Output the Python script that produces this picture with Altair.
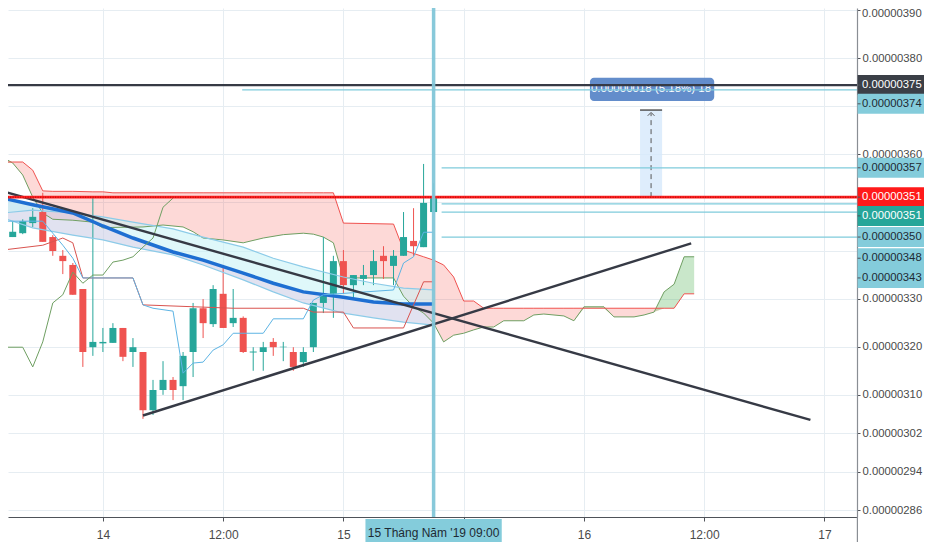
import altair as alt
import pandas as pd

# ---------------- data (prices in units of 1e-8) ----------------
# hourly candles, hour offset from 14 May 00:00
candle_hour = list(range(-10, 34))
candle_open = [347.0, 342.8, 343.6, 345.7, 348.0, 342.8, 338.9, 337.0, 332.0, 319.9,
               320.7, 320.8, 323.9, 318.9, 318.9, 306.8, 311.0, 313.1, 311.8, 318.9,
               328.0, 324.7, 331.0, 324.9, 326.0, 318.8, 318.9, 321.0, 319.9, 318.9,
               316.8, 319.9, 329.1, 331.0, 337.8, 332.8, 334.1, 334.9, 338.9, 336.8,
               338.9, 342.0, 340.7, 348.0]
candle_high = [347.5, 346.1, 346.5, 348.8, 352.0, 343.2, 340.1, 337.4, 332.0, 350.9,
               323.9, 324.9, 323.9, 321.8, 318.9, 313.1, 317.0, 313.7, 318.9, 329.1,
               329.9, 332.8, 337.0, 332.0, 326.3, 319.9, 321.0, 321.8, 321.0, 319.9,
               319.9, 329.1, 342.8, 338.9, 340.1, 334.9, 337.0, 340.1, 340.9, 340.1,
               348.0, 348.8, 358.0, 354.0]
candle_low = [343.5, 342.8, 343.4, 344.9, 341.8, 338.9, 335.1, 330.8, 315.8, 318.1,
              318.9, 320.8, 317.0, 315.8, 305.0, 305.8, 310.0, 308.9, 308.9, 313.7,
              321.8, 324.1, 323.9, 324.1, 318.7, 315.0, 315.0, 318.1, 317.0, 315.0,
              315.8, 318.9, 327.0, 326.0, 331.0, 329.9, 332.8, 332.8, 334.1, 332.8,
              338.9, 338.9, 340.7, 348.0]
candle_close = [343.9, 343.9, 346.1, 347.0, 341.8, 339.9, 337.8, 330.8, 318.9, 321.0,
                321.0, 323.9, 317.9, 319.9, 306.8, 311.0, 313.1, 311.0, 318.1, 328.0,
                324.9, 332.0, 323.9, 326.0, 318.9, 319.0, 319.9, 319.9, 320.0, 315.8,
                318.9, 329.1, 331.0, 337.8, 332.8, 334.9, 334.9, 337.8, 337.8, 338.9,
                342.8, 340.9, 349.9, 350.9]

# Ichimoku cloud (Senkou A / Senkou B)
cloud_hour = [-10, -9, -8, -7, -6, -5, -3, -1, 0, 1, 4, 6, 8, 9, 10, 12, 14, 16, 18, 20,
              21, 22, 23, 24, 29, 30, 31, 32, 33, 34, 35, 36, 37, 38, 39, 40, 42, 43, 44, 46,
              47, 48, 50, 51, 53, 54, 55, 56, 57, 58, 59]
senkou_a = [359.4, 358.2, 355.7, 351.1, 347.8, 346.5, 346.3, 345.9, 344.7, 344.8,
            344.9, 345.3, 344.9, 343.9, 342.6, 342.2, 341.6, 342.6, 343.3, 343.6,
            343.4, 342.8, 341.6, 334.3, 334.3, 330.5, 328.3, 327.0, 324.9, 321.0,
            322.4, 322.8, 323.5, 324.1, 324.1, 325.4, 325.4, 326.6, 326.8, 326.4,
            325.4, 328.3, 328.3, 326.2, 326.2, 326.6, 327.2, 331.4, 333.0, 338.7, 338.7]
senkou_b = [358.4, 358.4, 358.4, 356.7, 352.4, 352.3, 352.3, 352.2, 352.2, 352.0,
            352.0, 352.0, 352.0, 352.0, 352.0, 352.0, 352.0, 352.0, 352.0, 352.0,
            352.0, 352.0, 352.0, 345.7, 345.5, 340.1, 339.4, 338.7, 338.0, 337.0,
            334.5, 329.5, 329.5, 328.0, 328.0, 328.0, 328.0, 328.0, 328.0, 328.0,
            328.0, 328.0, 328.0, 328.0, 328.0, 328.0, 328.0, 328.0, 328.0, 331.0, 331.0]

# moving-average ribbon
ribbon_hour = [-10, -7, -3, 0, 3, 7, 10, 14, 17, 20, 24, 27, 30, 33]
ribbon_upper = [347.8, 348.4, 347.8, 347.0, 345.9, 344.5, 342.8, 340.7, 338.4, 336.6, 334.5, 333.2, 332.2, 331.8]
ribbon_mid = [350.9, 349.5, 347.8, 345.1, 342.6, 339.7, 338.0, 335.3, 333.2, 331.4, 330.3, 329.3, 328.9, 328.9]
ribbon_lower = [346.8, 344.7, 343.2, 342.2, 340.7, 339.1, 337.0, 333.9, 331.4, 329.1, 327.0, 326.0, 325.1, 324.5]

tenkan_hour = [-10, -6, -5, -4, -3, -2, 3, 4, 5, 7, 8, 9, 10, 11, 12, 13, 16, 17, 20, 21, 22, 29, 30, 31, 32, 33]
tenkan = [346.1, 346.1, 343.6, 341.1, 338.4, 334.3, 334.3, 328.7, 328.0, 327.4, 314.5, 316.6, 316.8,
          319.3, 320.4, 322.8, 322.8, 325.8, 325.8, 329.7, 330.8, 331.8, 337.4, 338.7, 343.8, 343.8]
kijun_hour = [-10, -6, -4, -3, -2, 3, 4, 13, 20, 21, 24, 25, 30, 32, 33]
kijun = [340.1, 341.1, 342.6, 341.6, 334.3, 334.3, 328.7, 328.0, 328.0, 327.2, 327.2, 323.9, 323.9, 333.5, 333.5]
chikou_hour = [-10, -8, -7, -6, -5, -4, -3, -2, -1, 0, 1, 2, 3, 4, 5, 6, 7]
chikou = [319.9, 319.9, 315.8, 321.0, 329.1, 330.8, 335.5, 333.2, 334.9, 334.9, 337.6, 338.0, 338.7, 340.7, 342.6, 349.0, 350.9]

# drawn trend lines
trend_start_hour = [-10, 4.0]
trend_start_price = [352.3, 305.7]
trend_end_hour = [70.6, 58.7]
trend_end_price = [304.8, 341.5]

# horizontal levels
level_price = [374.4, 373.4, 357.2, 349.7, 348.0, 342.8]
level_from_hour = [-12, 13.9, 33.8, 33.8, 33.8, 33.8]
level_kind = ["line", "alert", "alert", "alert", "alert", "alert"]
last_price = 351.1

# right-hand price tags
tag_text = ["0.00000375", "0.00000374", "0.00000357", "0.00000351", "0.00000351",
            "0.00000350", "0.00000348", "0.00000343"]
tag_price = [374.4, 370.5, 357.2, 351.1, 347.2, 342.8, 338.4, 334.3]
tag_kind = ["line", "alert", "alert", "price", "last", "alert", "alert", "alert"]

# axes
y_ticks = [390, 380, 370, 360, 350, 340, 330, 320, 310, 302, 294, 286]
y_hidden = [370, 350, 340]
y_top_tick = 390
x_ticks = [0, 12, 24, 36, 48, 60, 72]
x_tick_labels = ["14", "12:00", "15", "", "16", "12:00", "17"]

# crosshair + measure tool
cursor_hour = 33
cursor_box_hours = [26.2, 39.8]
cursor_label = "15 Tháng Năm '19   09:00"
measure_from = 351.1
measure_to = 369.2
measure_hours = [53.6, 55.8]
measure_label = "0.00000018 (5.18%) 18"
measure_box_hours = [48.6, 61.0]
measure_box_prices = [371.1, 375.9]

# ---------------- styling ----------------
FONT = "Liberation Sans"
GREEN = "#26a69a"
RED = "#ef5350"
GRID = "#e6edf2"
DARK = "#363a45"
CYAN = "#7fcbdb"
W, H = 849, 509
PAD_R, PAD_B = 67, 25
LAB_X = 854
X_DOM = [-8.97, 74.75]
Y_DOM = [284.6, 390.42]

xs = alt.Scale(domain=X_DOM, nice=False, zero=False)
ys = alt.Scale(domain=Y_DOM, nice=False, zero=False)

xexpr = "''"
for v, lab in reversed(list(zip(x_ticks, x_tick_labels))):
    xexpr = f"datum.value == {v} ? '{lab}' : ({xexpr})"
yexpr = (f"indexof({y_hidden + [y_top_tick]}, datum.value) >= 0 ? '' : "
         "format(datum.value / 1e8, '.8f')")

x_axis = alt.Axis(values=x_ticks, labelExpr=xexpr, title=None, grid=True, gridColor=GRID,
                  domainColor="#4f5359", domainWidth=1.2, tickColor="#4f5359", tickSize=4,
                  labelColor="#4a4a4a", labelFont=FONT, labelFontSize=12, labelPadding=8,
                  labelFlush=False)
y_axis = alt.Axis(orient="right", values=y_ticks, labelExpr=yexpr, title=None, grid=True,
                  gridColor=GRID, domainColor="#8a8e94", domainWidth=1.2, tickColor="#4f5359",
                  tickSize=3, labelColor="#4a4a4a", labelFont=FONT, labelFontSize=11.3,
                  labelPadding=2, labelOverlap=False, labelFlush=False)


def X(f):
    return alt.X(f, type="quantitative", scale=xs, axis=x_axis)


def Y(f):
    return alt.Y(f, type="quantitative", scale=ys, axis=y_axis)


candles = pd.DataFrame(dict(h=candle_hour, o=candle_open, hi=candle_high,
                            lo=candle_low, c=candle_close))
cloud = pd.DataFrame(dict(h=cloud_hour, a=senkou_a, b=senkou_b))
ribbon = pd.DataFrame(dict(h=ribbon_hour, up=ribbon_upper, mid=ribbon_mid, low=ribbon_lower))
ten = pd.DataFrame(dict(h=tenkan_hour, v=tenkan))
kij = pd.DataFrame(dict(h=kijun_hour, v=kijun))
chi = pd.DataFrame(dict(h=chikou_hour, v=chikou))
trends = pd.DataFrame(dict(h0=trend_start_hour, p0=trend_start_price,
                           h1=trend_end_hour, p1=trend_end_price))
lvl_color = {"line": DARK, "alert": CYAN}
lvl_width = {"line": 2.2, "alert": 1.2}
levels = pd.DataFrame(dict(p=level_price, h0=level_from_hour, h1=[80] * len(level_price),
                           col=[lvl_color[k] for k in level_kind],
                           w=[lvl_width[k] for k in level_kind]))
lastp = pd.DataFrame(dict(p=[last_price], h0=[-12], h1=[80]))
tag_fill = {"line": "#3b3f47", "alert": "#84ccdb", "price": "#ff1a1a", "last": "#26a69a"}
tag_tcol = {"line": "#ffffff", "alert": "#1e2a33", "price": "#ffffff", "last": "#ffffff"}
tags = pd.DataFrame(dict(p=tag_price, t=tag_text,
                         fill=[tag_fill[k] for k in tag_kind],
                         tc=[tag_tcol[k] for k in tag_kind]))
toplab = pd.DataFrame(dict(p=[y_top_tick], t=[f"{y_top_tick / 1e8:.8f}"]))
cur = pd.DataFrame(dict(h=[cursor_hour], h0=[cursor_box_hours[0]], h1=[cursor_box_hours[1]],
                        t=[cursor_label]))
hm = (measure_hours[0] + measure_hours[1]) / 2
meas = pd.DataFrame(dict(h0=[measure_hours[0]], h1=[measure_hours[1]], hm=[hm],
                         p0=[measure_from], p1=[measure_to], p1d=[measure_to - 0.7],
                         bh0=[measure_box_hours[0]], bh1=[measure_box_hours[1]],
                         bp0=[measure_box_prices[0]], bp1=[measure_box_prices[1]],
                         bpm=[(measure_box_prices[0] + measure_box_prices[1]) / 2],
                         t=[measure_label]))

layers = []

# cloud fills
layers.append(alt.Chart(cloud).transform_calculate(m="min(datum.a, datum.b)")
              .mark_area(clip=True, color="#f44336", opacity=0.2)
              .encode(x=X("h"), y=Y("b"), y2=alt.Y2("m")))
layers.append(alt.Chart(cloud).transform_calculate(m="min(datum.a, datum.b)")
              .mark_area(clip=True, color="#4caf50", opacity=0.3)
              .encode(x=X("h"), y=Y("a"), y2=alt.Y2("m")))
# ribbon fills
layers.append(alt.Chart(ribbon).mark_area(clip=True, color="#c9cae3", opacity=0.55)
              .encode(x=X("h"), y=Y("mid"), y2=alt.Y2("low")))
layers.append(alt.Chart(ribbon).mark_area(clip=True, color="#c4f3f5", opacity=0.55)
              .encode(x=X("h"), y=Y("up"), y2=alt.Y2("mid")))
# cloud lines
layers.append(alt.Chart(cloud).mark_line(clip=True, color="#6f9f62", strokeWidth=1)
              .encode(x=X("h"), y=Y("a")))
layers.append(alt.Chart(cloud).mark_line(clip=True, color="#f0524f", strokeWidth=1)
              .encode(x=X("h"), y=Y("b")))
# candles
col = alt.condition("datum.c >= datum.o", alt.value(GREEN), alt.value(RED))
layers.append(alt.Chart(candles).mark_rule(clip=True, strokeWidth=1)
              .encode(x=X("h"), y=Y("lo"), y2=alt.Y2("hi"), color=col))
layers.append(alt.Chart(candles).mark_bar(clip=True, size=7)
              .encode(x=X("h"), y=Y("o"), y2=alt.Y2("c"), color=col))
# ribbon lines
for f in ["up", "low"]:
    layers.append(alt.Chart(ribbon).mark_line(clip=True, color="#8ccbe8", strokeWidth=1.2)
                  .encode(x=X("h"), y=Y(f)))
layers.append(alt.Chart(ribbon).mark_line(clip=True, color="#1e6fd2", strokeWidth=3.5)
              .encode(x=X("h"), y=Y("mid")))
# tenkan / kijun / chikou
layers.append(alt.Chart(kij).mark_line(clip=True, color="#d9534f", strokeWidth=1)
              .encode(x=X("h"), y=Y("v")))
layers.append(alt.Chart(ten).mark_line(clip=True, color="#5db4e4", strokeWidth=1)
              .encode(x=X("h"), y=Y("v")))
layers.append(alt.Chart(chi).mark_line(clip=True, color="#6f9f62", strokeWidth=1)
              .encode(x=X("h"), y=Y("v")))
# measure tool (under the level lines)
layers.append(alt.Chart(meas).mark_rect(clip=True, color="#d6e8fb", opacity=0.8)
              .encode(x=X("h0"), x2=alt.X2("h1"), y=Y("p0"), y2=alt.Y2("p1")))
layers.append(alt.Chart(meas).mark_rule(clip=True, color="#555555", strokeWidth=1, strokeDash=[5, 4])
              .encode(x=X("hm"), y=Y("p0"), y2=alt.Y2("p1d")))
layers.append(alt.Chart(meas).mark_rule(clip=True, color="#555555", strokeWidth=1.5)
              .encode(x=X("h0"), x2=alt.X2("h1"), y=Y("p1")))
layers.append(alt.Chart(meas).mark_point(clip=True, shape="M-1,0.7L0,-0.3L1,0.7", filled=False,
                                          size=45, color="#555555", strokeWidth=1, opacity=1)
              .encode(x=X("hm"), y=Y("p1d")))
layers.append(alt.Chart(meas).mark_rect(clip=True, color="#5b87c8", cornerRadius=4, opacity=0.95)
              .encode(x=X("bh0"), x2=alt.X2("bh1"), y=Y("bp0"), y2=alt.Y2("bp1")))
layers.append(alt.Chart(meas).mark_text(clip=True, color="#ffffff", font=FONT, fontSize=11.5)
              .encode(x=X("hm"), y=Y("bpm"), text="t:N"))
# trend lines
layers.append(alt.Chart(trends).mark_rule(clip=True, color=DARK, strokeWidth=2.4)
              .encode(x=X("h0"), y=Y("p0"), x2=alt.X2("h1"), y2=alt.Y2("p1")))
# horizontal levels
layers.append(alt.Chart(levels).mark_rule(clip=True)
              .encode(x=X("h0"), x2=alt.X2("h1"), y=Y("p"),
                      color=alt.Color("col:N", scale=None),
                      strokeWidth=alt.StrokeWidth("w:Q", scale=None)))
layers.append(alt.Chart(lastp).mark_rule(clip=True, color="#ff2020", strokeWidth=2.6)
              .encode(x=X("h0"), x2=alt.X2("h1"), y=Y("p")))
layers.append(alt.Chart(lastp).mark_rule(clip=True, color="#a00000", strokeWidth=1, strokeDash=[1, 1.5])
              .encode(x=X("h0"), x2=alt.X2("h1"), y=Y("p")))
# crosshair
layers.append(alt.Chart(cur).mark_rule(clip=True, color="#82c6d8", strokeWidth=3.5, opacity=0.95)
              .encode(x=X("h")))
layers.append(alt.Chart(cur).mark_rect(color="#84ccdb")
              .encode(x=X("h0"), x2=alt.X2("h1"), y=alt.value(511), y2=alt.value(538)))
layers.append(alt.Chart(cur).mark_text(color="#1e2a33", font=FONT, fontSize=12)
              .encode(x=X("h"), y=alt.value(525), text="t:N"))
# top price label, nudged down so it stays inside the page
layers.append(alt.Chart(toplab).mark_text(align="left", baseline="middle", font=FONT,
                                          fontSize=11.3, color="#4a4a4a", dy=4)
              .encode(x=alt.value(LAB_X), y=Y("p"), text="t:N"))
# price tags on the right scale
layers.append(alt.Chart(tags).mark_rule(strokeWidth=20)
              .encode(x=alt.value(849.6), x2=alt.value(W + PAD_R), y=Y("p"),
                      color=alt.Color("fill:N", scale=None)))
layers.append(alt.Chart(tags).mark_text(align="left", baseline="middle", font=FONT, fontSize=11.3)
              .encode(x=alt.value(LAB_X), y=Y("p"), text="t:N",
                      color=alt.Color("tc:N", scale=None)))
layers.append(alt.Chart(tags).mark_rule(color="#4f5359", strokeWidth=1)
              .encode(x=alt.value(849.6), x2=alt.value(852.6), y=Y("p")))
# price scale border continues to the bottom
layers.append(alt.Chart(cur).mark_rule(color="#8a8e94", strokeWidth=1.2)
              .encode(x=alt.value(849.4), y=alt.value(H), y2=alt.value(H + PAD_B)))

chart = (alt.layer(*layers)
         .properties(width=W, height=H, background="white",
                     autosize=alt.AutoSizeParams(type="none"),
                     padding={"left": 0, "top": 0, "right": PAD_R, "bottom": PAD_B})
         .configure_view(strokeWidth=0))

chart.save("out.html", embed_options={"renderer": "svg", "actions": False})
